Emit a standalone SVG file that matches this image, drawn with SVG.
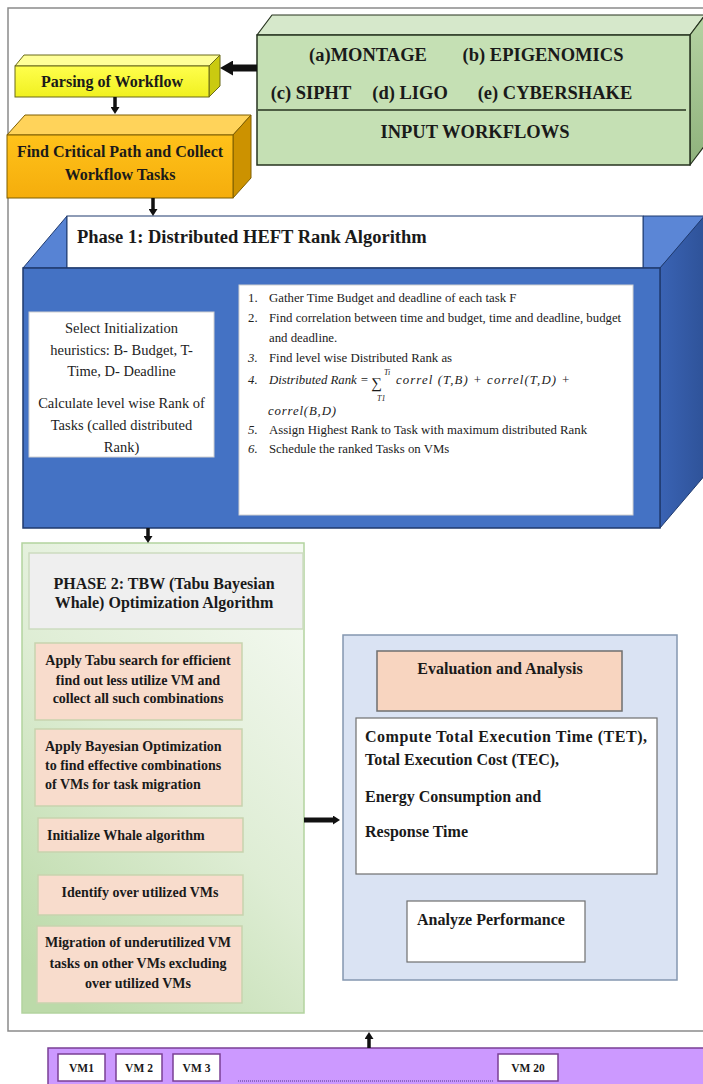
<svg xmlns="http://www.w3.org/2000/svg" width="703" height="1084" viewBox="0 0 703 1084">
<defs>
  <linearGradient id="gGreenR" x1="0" y1="0" x2="0" y2="1"><stop offset="0" stop-color="#b5d3a3"/><stop offset="1" stop-color="#8fb27c"/></linearGradient>
  <linearGradient id="gOrange" x1="0" y1="0" x2="0" y2="1"><stop offset="0" stop-color="#ffc21a"/><stop offset="1" stop-color="#f5ad0c"/></linearGradient>
  <linearGradient id="gYellow" x1="0" y1="0" x2="0" y2="1"><stop offset="0" stop-color="#ffff4d"/><stop offset="1" stop-color="#f0f020"/></linearGradient>
  <linearGradient id="gPhase2" x1="0.8" y1="0" x2="0.2" y2="1"><stop offset="0" stop-color="#f4f9f1"/><stop offset="0.5" stop-color="#deedd4"/><stop offset="1" stop-color="#bcdaa9"/></linearGradient>
  <linearGradient id="gBlueR" x1="0" y1="0" x2="1" y2="0"><stop offset="0" stop-color="#3a63b4"/><stop offset="1" stop-color="#2e5298"/></linearGradient>
  <marker id="ahBig" markerUnits="userSpaceOnUse" markerWidth="13" markerHeight="15" viewBox="0 0 13 15" refX="0" refY="7.5" orient="auto">
    <path d="M0,0 L13,7.5 L0,15 z" fill="#111"/>
  </marker>
  <marker id="ahSmall" markerUnits="userSpaceOnUse" markerWidth="7" markerHeight="9" viewBox="0 0 7 9" refX="0" refY="4.5" orient="auto">
    <path d="M0,0 L7,4.5 L0,9 z" fill="#111"/>
  </marker>
</defs>
<style>
  .t{font-family:"Liberation Serif","Times New Roman",serif;fill:#1a1a1a}
  .b{font-weight:bold}
  .c{text-anchor:middle}
  .i{font-style:italic}
  .g18{font-size:18.5px}
  .s16{font-size:16px}
  .s14{font-size:14px}
  .l1{font-size:14.5px;fill:#222}
  .li{font-size:12.8px;fill:#222}
  .vm{font-size:11.5px}
  .edge{stroke-linejoin:round}
  .pink{fill:#f8dccc;stroke:#c8d3ae;stroke-width:1.5}
  .vmb{fill:#fff;stroke:#7a3f95;stroke-width:1.5}
  .conn{stroke:#111;fill:none}
</style>
<rect width="703" height="1084" fill="#fff"/>
<rect id="frame" x="8" y="8" width="705" height="1023" fill="none" stroke="#8a8a8a" stroke-width="1.5"/>

<g id="input-workflows">
  <polygon points="257,35 272,15 705,15 690,35" fill="#d6e8cb" stroke="#26331f" stroke-width="1.2" class="edge"/>
  <polygon points="690,35 705,15 705,145 690,165" fill="url(#gGreenR)" stroke="#26331f" stroke-width="1.2" class="edge"/>
  <rect x="257" y="35" width="433" height="130" fill="#c5e0b4" stroke="#26331f" stroke-width="1.5"/>
  <line x1="258" y1="110" x2="686" y2="110" stroke="#26331f" stroke-width="1.5"/>
  <text class="t b c g18" x="368" y="61">(a)MONTAGE</text>
  <text class="t b c g18" x="543" y="61">(b) EPIGENOMICS</text>
  <text class="t b c g18" x="311" y="99">(c) SIPHT</text>
  <text class="t b c g18" x="410" y="99">(d) LIGO</text>
  <text class="t b c g18" x="555" y="99">(e) CYBERSHAKE</text>
  <text class="t b c g18" x="475" y="138">INPUT WORKFLOWS</text>
</g>

<g id="parsing">
  <polygon points="15,66 24,55 220,55 209,66" fill="#ffff99" stroke="#6b6b1a" stroke-width="1" class="edge"/>
  <polygon points="209,66 220,55 220,86 209,97" fill="#caca10" stroke="#6b6b1a" stroke-width="1" class="edge"/>
  <rect x="15" y="66" width="194" height="31" fill="url(#gYellow)" stroke="#6b6b1a" stroke-width="1"/>
  <text class="t b c s16" x="112" y="87">Parsing of Workflow</text>
</g>

<g id="critical-path">
  <polygon points="7,135 25,115 251,115 233,135" fill="#ffd35a" stroke="#7f5f00" stroke-width="1" class="edge"/>
  <polygon points="233,135 251,115 251,178 233,198" fill="#cc9200" stroke="#7f5f00" stroke-width="1" class="edge"/>
  <rect x="7" y="135" width="226" height="63" fill="url(#gOrange)" stroke="#7f5f00" stroke-width="1"/>
  <text class="t b c s16" x="120" y="157">Find Critical Path and Collect</text>
  <text class="t b c s16" x="120" y="180">Workflow Tasks</text>
</g>

<g id="phase1">
  <polygon points="23,268 67,216 67,268" fill="#5783d4" stroke="#1f3a6e" stroke-width="1" class="edge"/>
  <polygon points="643,216 706,216 660,268 643,268" fill="#5b86d6" stroke="#1f3a6e" stroke-width="1" class="edge"/>
  <polygon points="660,268 706,214 706,474 660,528" fill="url(#gBlueR)" stroke="#1f3a6e" stroke-width="1" class="edge"/>
  <rect x="67" y="216" width="576" height="52" fill="#fff" stroke="#1f3a6e" stroke-width="1"/>
  <text class="t b g18" x="77" y="243">Phase 1: Distributed HEFT Rank Algorithm</text>
  <rect x="23" y="268" width="637" height="260" fill="#4472c4" stroke="#1f3a6e" stroke-width="1.5"/>
  <rect x="29" y="312" width="185" height="145" fill="#fff" stroke="#d0d0d0" stroke-width="1"/>
  <text class="t c l1" x="121.5" y="333">Select Initialization</text>
  <text class="t c l1" x="121.5" y="355">heuristics: B- Budget, T-</text>
  <text class="t c l1" x="121.5" y="376">Time, D- Deadline</text>
  <text class="t c l1" x="121.5" y="408">Calculate level wise Rank of</text>
  <text class="t c l1" x="121.5" y="430">Tasks (called distributed</text>
  <text class="t c l1" x="121.5" y="452">Rank)</text>
  <rect x="239" y="285" width="394" height="230" fill="#fff" stroke="#d0d0d0" stroke-width="1"/>
  <text class="t li" x="248" y="302">1.</text>
  <text class="t li" x="269" y="302">Gather Time Budget and deadline of each task F</text>
  <text class="t li" x="248" y="322">2.</text>
  <text class="t li" x="269" y="322">Find correlation between time and budget, time and deadline, budget</text>
  <text class="t li" x="269" y="342">and deadline.</text>
  <text class="t li i" x="248" y="362">3.</text>
  <text class="t li" x="269" y="362">Find level wise Distributed Rank as</text>
  <text class="t li i" x="248" y="384">4.</text>
  <text class="t li i" x="269" y="384">Distributed Rank =</text>
  <text class="t" x="371" y="388" font-size="15">∑</text>
  <text class="t i" x="384" y="375" font-size="8">Ti</text>
  <text class="t i" x="377" y="401" font-size="8">T1</text>
  <text class="t li i" x="396" y="384" textLength="174">correl (T,B) +  correl(T,D) +</text>
  <text class="t li i" x="268" y="415" textLength="68">correl(B,D)</text>
  <text class="t li i" x="248" y="434">5.</text>
  <text class="t li" x="269" y="434">Assign Highest Rank to Task with maximum distributed Rank</text>
  <text class="t li i" x="248" y="453">6.</text>
  <text class="t li" x="269" y="453">Schedule the ranked Tasks on VMs</text>
</g>

<g id="phase2">
  <rect x="22" y="543" width="282" height="470" fill="url(#gPhase2)" stroke="#b3d39f" stroke-width="1.5"/>
  <rect x="29" y="553" width="274" height="76" fill="#efefef" stroke="#cddcc0" stroke-width="1.5"/>
  <text class="t b c s16" x="164" y="589">PHASE 2: TBW (Tabu Bayesian</text>
  <text class="t b c s16" x="164" y="608">Whale) Optimization Algorithm</text>
</g>
<g id="tabu">
  <rect class="pink" x="35" y="643" width="207" height="77"/>
  <text class="t b c s14" x="138" y="665">Apply Tabu search for efficient</text>
  <text class="t b c s14" x="138" y="685">find out less utilize VM and</text>
  <text class="t b c s14" x="138" y="703">collect all such combinations</text>
</g>
<g id="bayesian">
  <rect class="pink" x="35" y="729" width="207" height="77"/>
  <text class="t b s14" x="45" y="751">Apply Bayesian Optimization</text>
  <text class="t b s14" x="45" y="770">to find effective combinations</text>
  <text class="t b s14" x="45" y="789">of VMs for task migration</text>
</g>
<g id="whale">
  <rect class="pink" x="38" y="818" width="205" height="34"/>
  <text class="t b s14" x="47" y="840">Initialize Whale algorithm</text>
</g>
<g id="identify">
  <rect class="pink" x="38" y="875" width="205" height="40"/>
  <text class="t b c s14" x="140" y="897">Identify over utilized VMs</text>
</g>
<g id="migration">
  <rect class="pink" x="37" y="926" width="205" height="77"/>
  <text class="t b c s14" x="138" y="947">Migration of underutilized VM</text>
  <text class="t b c s14" x="138" y="968">tasks on other VMs excluding</text>
  <text class="t b c s14" x="138" y="988">over utilized VMs</text>
</g>

<g id="evaluation">
  <rect x="343" y="635" width="334" height="345" fill="#dae3f3" stroke="#8497b0" stroke-width="1.5"/>
  <rect x="377" y="651" width="245" height="60" fill="#f8d5c0" stroke="#6f6f6f" stroke-width="1.5"/>
  <text class="t b c s16" x="500" y="674">Evaluation and Analysis</text>
  <rect x="356" y="718" width="301" height="156" fill="#fff" stroke="#6f6f6f" stroke-width="1.2"/>
  <text class="t b s16" x="365" y="742" textLength="282">Compute Total Execution Time (TET),</text>
  <text class="t b s16" x="365" y="765">Total Execution Cost (TEC),</text>
  <text class="t b s16" x="365" y="802">Energy Consumption and</text>
  <text class="t b s16" x="365" y="837">Response Time</text>
</g>
<g id="analyze">
  <rect x="407" y="901" width="178" height="61" fill="#fff" stroke="#6f6f6f" stroke-width="1.2"/>
  <text class="t b c s16" x="491" y="925">Analyze Performance</text>
</g>

<g id="vms">
  <rect x="48" y="1048" width="660" height="40" fill="#cc99ff" stroke="#7a3f95" stroke-width="1.5"/>
  <rect class="vmb" x="58" y="1054" width="47" height="27"/>
  <text class="t b c vm" x="81.5" y="1072">VM1</text>
  <rect class="vmb" x="116" y="1054" width="46" height="27"/>
  <text class="t b c vm" x="139" y="1072">VM 2</text>
  <rect class="vmb" x="173" y="1054" width="47" height="27"/>
  <text class="t b c vm" x="196.5" y="1072">VM 3</text>
  <line x1="238" y1="1081" x2="493" y2="1081" stroke="#4b3a8a" stroke-width="1.2" stroke-dasharray="1 1"/>
  <rect class="vmb" x="498" y="1054" width="60" height="27"/>
  <text class="t b c vm" x="528" y="1072">VM 20</text>
</g>

<g id="connectors">
  <line class="conn" x1="257" y1="68" x2="233" y2="68" stroke-width="7" marker-end="url(#ahBig)"/>
  <line class="conn" x1="115" y1="97" x2="115" y2="107" stroke-width="3.5" marker-end="url(#ahSmall)"/>
  <line class="conn" x1="153" y1="198" x2="153" y2="209" stroke-width="3.5" marker-end="url(#ahSmall)"/>
  <line class="conn" x1="148" y1="528" x2="148" y2="536" stroke-width="3.5" marker-end="url(#ahSmall)"/>
  <line class="conn" x1="304" y1="820" x2="333" y2="820" stroke-width="5" marker-end="url(#ahSmall)"/>
  <line class="conn" x1="369" y1="1048" x2="369" y2="1039" stroke-width="3.5" marker-end="url(#ahSmall)"/>
</g>
</svg>
